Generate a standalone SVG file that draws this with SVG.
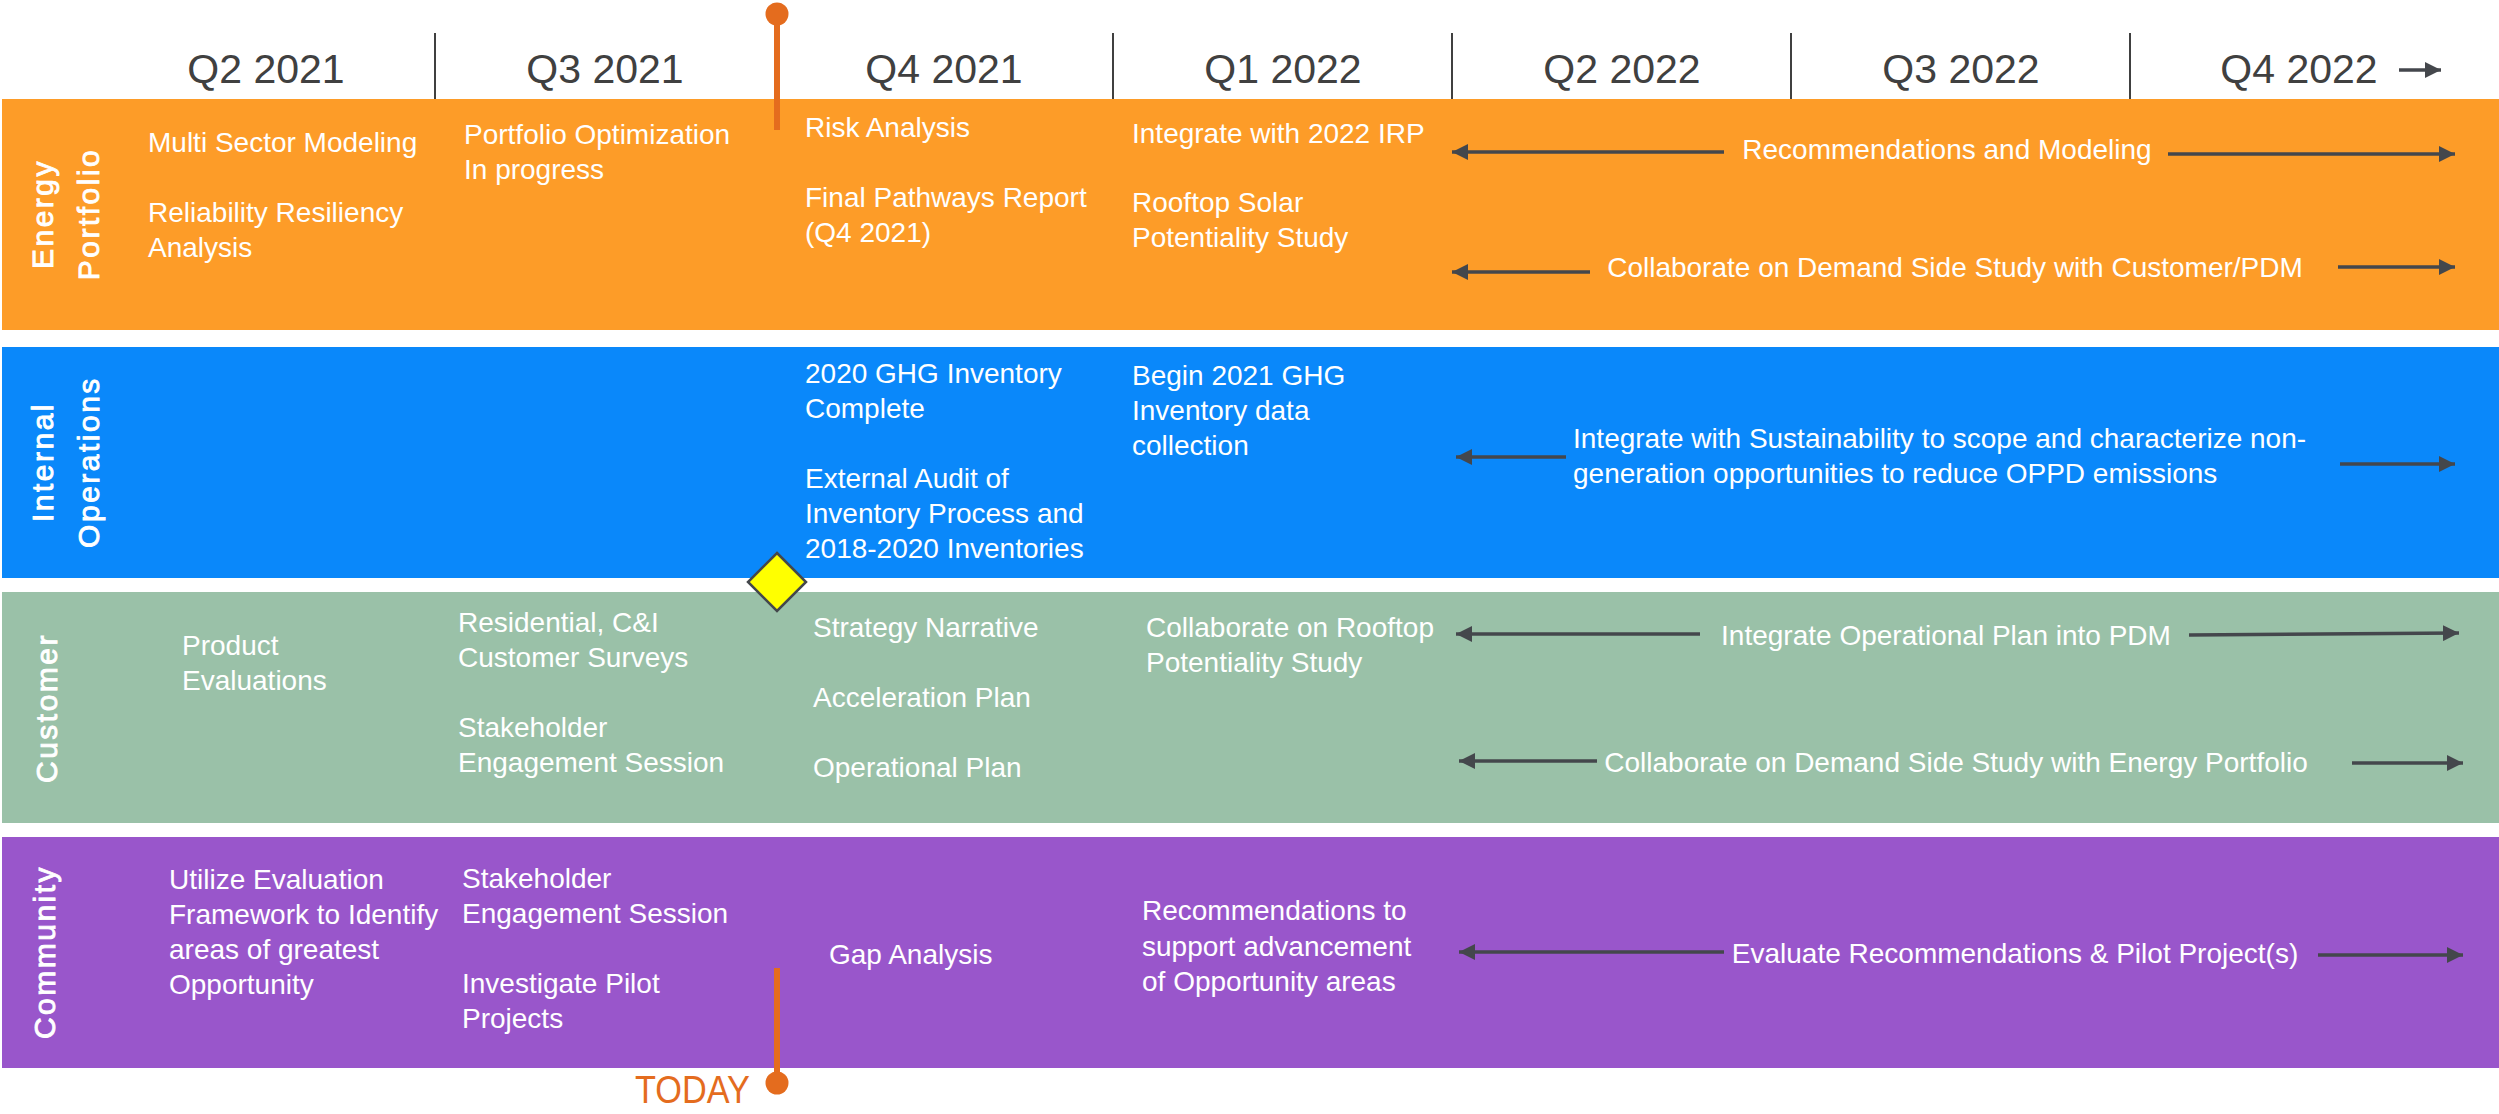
<svg xmlns="http://www.w3.org/2000/svg" width="2499" height="1114" viewBox="0 0 2499 1114">
<style>
.hdr{font-family:"Liberation Sans",Arial,sans-serif;font-size:41px;fill:#404040;text-anchor:middle}
.sep{stroke:#404040;stroke-width:2}
.t{font-family:"Liberation Sans",Arial,sans-serif;font-size:28px;fill:#ffffff}
.c{text-anchor:middle}
.lab{font-family:"Liberation Sans",Arial,sans-serif;font-size:30px;fill:#ffffff;stroke:#ffffff;stroke-width:0.9px;text-anchor:middle;letter-spacing:2.5px}
.arr{stroke:#44474c;stroke-width:3.5;fill:none;marker-end:url(#ah)}
.today{stroke:#E46C1E;stroke-width:6}
</style>
<defs>
<marker id="ah" viewBox="0 0 16 16" refX="16" refY="8" markerWidth="16" markerHeight="16" markerUnits="userSpaceOnUse" orient="auto">
<path d="M0,0 L16,8 L0,16 z" fill="#44474c"/>
</marker>
</defs>
<rect width="2499" height="1114" fill="#ffffff"/>

<g id="header">
<line class="sep" x1="435" y1="33" x2="435" y2="103"/>
<line class="sep" x1="1113" y1="33" x2="1113" y2="103"/>
<line class="sep" x1="1452" y1="33" x2="1452" y2="103"/>
<line class="sep" x1="1791" y1="33" x2="1791" y2="103"/>
<line class="sep" x1="2130" y1="33" x2="2130" y2="103"/>
<text class="hdr" x="266" y="83">Q2 2021</text>
<text class="hdr" x="605" y="83">Q3 2021</text>
<text class="hdr" x="944" y="83">Q4 2021</text>
<text class="hdr" x="1283" y="83">Q1 2022</text>
<text class="hdr" x="1622" y="83">Q2 2022</text>
<text class="hdr" x="1961" y="83">Q3 2022</text>
<text class="hdr" x="2299" y="83">Q4 2022</text>
<line class="arr" x1="2399" y1="70" x2="2441" y2="70" stroke-width="3"/>
</g>

<g id="energy-portfolio">
<rect x="2" y="99" width="2497" height="231" fill="#FD9C28"/>
<text class="lab" transform="translate(53,214) rotate(-90)">Energy</text>
<text class="lab" transform="translate(99,214) rotate(-90)">Portfolio</text>
<text class="t" x="148" y="152">Multi Sector Modeling</text>
<text class="t" x="148" y="222">Reliability Resiliency</text>
<text class="t" x="148" y="257">Analysis</text>
<text class="t" x="464" y="144">Portfolio Optimization</text>
<text class="t" x="464" y="179">In progress</text>
<text class="t" x="805" y="137">Risk Analysis</text>
<text class="t" x="805" y="207">Final Pathways Report</text>
<text class="t" x="805" y="242">(Q4 2021)</text>
<text class="t" x="1132" y="143">Integrate with 2022 IRP</text>
<text class="t" x="1132" y="212">Rooftop Solar</text>
<text class="t" x="1132" y="247">Potentiality Study</text>
<text class="t c" x="1947" y="159">Recommendations and Modeling</text>
<text class="t c" x="1955" y="277">Collaborate on Demand Side Study with Customer/PDM</text>
</g>

<g id="internal-operations">
<rect x="2" y="347" width="2497" height="231" fill="#0A88FA"/>
<text class="lab" transform="translate(53,462) rotate(-90)">Internal</text>
<text class="lab" transform="translate(99,462) rotate(-90)">Operations</text>
<text class="t" x="805" y="383">2020 GHG Inventory</text>
<text class="t" x="805" y="418">Complete</text>
<text class="t" x="805" y="488">External Audit of</text>
<text class="t" x="805" y="523">Inventory Process and</text>
<text class="t" x="805" y="558">2018-2020 Inventories</text>
<text class="t" x="1132" y="385">Begin 2021 GHG</text>
<text class="t" x="1132" y="420">Inventory data</text>
<text class="t" x="1132" y="455">collection</text>
<text class="t" x="1573" y="448">Integrate with Sustainability to scope and characterize non-</text>
<text class="t" x="1573" y="483">generation opportunities to reduce OPPD emissions</text>
</g>

<g id="customer">
<rect x="2" y="592" width="2497" height="231" fill="#9AC1A8"/>
<text class="lab" transform="translate(57,708) rotate(-90)">Customer</text>
<text class="t" x="182" y="655">Product</text>
<text class="t" x="182" y="690">Evaluations</text>
<text class="t" x="458" y="632">Residential, C&amp;I</text>
<text class="t" x="458" y="667">Customer Surveys</text>
<text class="t" x="458" y="737">Stakeholder</text>
<text class="t" x="458" y="772">Engagement Session</text>
<text class="t" x="813" y="637">Strategy Narrative</text>
<text class="t" x="813" y="707">Acceleration Plan</text>
<text class="t" x="813" y="777">Operational Plan</text>
<text class="t" x="1146" y="637">Collaborate on Rooftop</text>
<text class="t" x="1146" y="672">Potentiality Study</text>
<text class="t c" x="1946" y="645">Integrate Operational Plan into PDM</text>
<text class="t c" x="1956" y="772">Collaborate on Demand Side Study with Energy Portfolio</text>
</g>

<g id="community">
<rect x="2" y="837" width="2497" height="231" fill="#9956CB"/>
<text class="lab" transform="translate(55,952) rotate(-90)">Community</text>
<text class="t" x="169" y="889">Utilize Evaluation</text>
<text class="t" x="169" y="924">Framework to Identify</text>
<text class="t" x="169" y="959">areas of greatest</text>
<text class="t" x="169" y="994">Opportunity</text>
<text class="t" x="462" y="888">Stakeholder</text>
<text class="t" x="462" y="923">Engagement Session</text>
<text class="t" x="462" y="993">Investigate Pilot</text>
<text class="t" x="462" y="1028">Projects</text>
<text class="t" x="829" y="964">Gap Analysis</text>
<text class="t" x="1142" y="920">Recommendations to</text>
<text class="t" x="1142" y="956">support advancement</text>
<text class="t" x="1142" y="991">of Opportunity areas</text>
<text class="t c" x="2015" y="963">Evaluate Recommendations &amp; Pilot Project(s)</text>
</g>

<g id="today-marker">
<line class="today" x1="777" y1="14" x2="777" y2="130"/>
<circle cx="777" cy="14" r="11.5" fill="#E46C1E"/>
<line class="today" x1="777" y1="968" x2="777" y2="1083"/>
<circle cx="777" cy="1083" r="11.5" fill="#E46C1E"/>
<text x="635" y="1103" font-family="'Liberation Sans',Arial,sans-serif" font-size="38" fill="#E46C1E" textLength="115" lengthAdjust="spacingAndGlyphs">TODAY</text>
</g>

<g id="milestone">
<polygon points="777,553 806,582 777,611 748,582" fill="#FFFF00" stroke="#44474c" stroke-width="2.5"/>
</g>

<g id="connectors">
<line class="arr" x1="1724" y1="152" x2="1452" y2="152"/>
<line class="arr" x1="2168" y1="154" x2="2455" y2="154"/>
<line class="arr" x1="1590" y1="272" x2="1452" y2="272"/>
<line class="arr" x1="2338" y1="267" x2="2455" y2="267"/>
<line class="arr" x1="1566" y1="457" x2="1456" y2="457"/>
<line class="arr" x1="2340" y1="464" x2="2455" y2="464"/>
<line class="arr" x1="1700" y1="634" x2="1456" y2="634"/>
<line class="arr" x1="2189" y1="635" x2="2459" y2="633"/>
<line class="arr" x1="1597" y1="761" x2="1459" y2="761"/>
<line class="arr" x1="2352" y1="763" x2="2463" y2="763"/>
<line class="arr" x1="1724" y1="952" x2="1459" y2="952"/>
<line class="arr" x1="2318" y1="955" x2="2463" y2="955"/>
</g>
</svg>
